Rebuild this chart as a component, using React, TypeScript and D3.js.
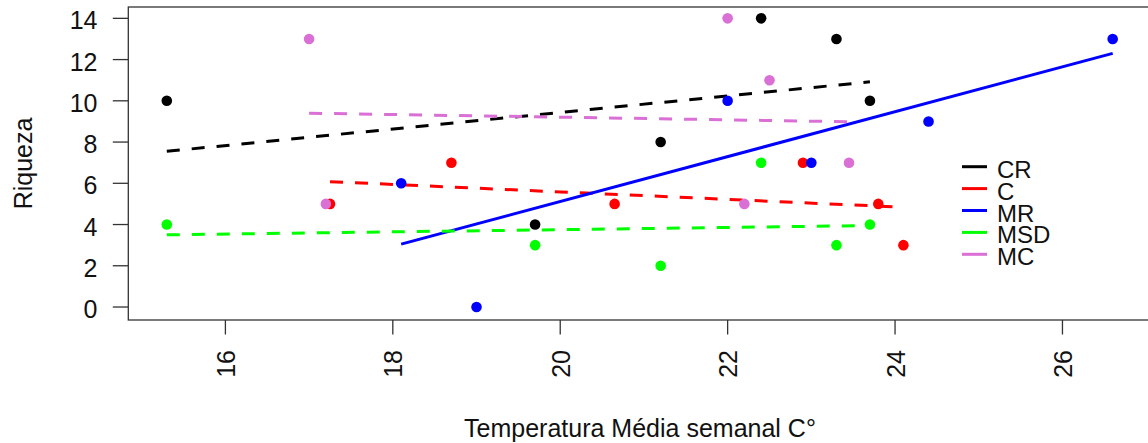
import React from "react";
import * as d3 from "d3";

// Weekly mean temperature (°C) and species richness for each site group
const seriesNames = ["CR", "C", "MR", "MSD", "MC"];
const seriesColors = ["#000000", "#ff0000", "#0000ff", "#00ff00", "#da70d6"];
const seriesDash = ["13 12", "13 12", "none", "13 12", "13 12"];

const tempCR = [15.3, 19.7, 21.2, 22.4, 23.3, 23.7];
const richCR = [10, 4, 8, 14, 13, 10];
const tempC = [17.25, 18.7, 20.65, 22.9, 23.8, 24.1];
const richC = [5, 7, 5, 7, 5, 3];
const tempMR = [18.1, 19.0, 22.0, 23.0, 24.4, 26.6];
const richMR = [6, 0, 10, 7, 9, 13];
const tempMSD = [15.3, 19.7, 21.2, 22.4, 23.3, 23.7];
const richMSD = [4, 3, 2, 7, 3, 4];
const tempMC = [17.0, 17.2, 22.0, 22.5, 22.2, 23.45];
const richMC = [13, 5, 14, 11, 5, 7];

// Fitted trend endpoints: [x0, x1] and [y0, y1]
const fitX = [
  [15.3, 23.7],
  [17.25, 24.1],
  [18.1, 26.6],
  [15.3, 23.7],
  [17.0, 23.5],
];
const fitY = [
  [7.55, 10.92],
  [6.08, 4.84],
  [3.05, 12.3],
  [3.5, 3.95],
  [9.4, 8.98],
];

const xTicks = [16, 18, 20, 22, 24, 26];
const yTicks = [0, 2, 4, 6, 8, 10, 12, 14];

const xTitle = "Temperatura Média semanal C°";
const yTitle = "Riqueza";

const temps = [tempCR, tempC, tempMR, tempMSD, tempMC];
const richs = [richCR, richC, richMR, richMSD, richMC];

export default function App() {
  const W = 1148;
  const H = 443;
  const left = 128.3;
  const right = 1153.7;
  const top = 7;
  const bottom = 320;

  const x = d3.scaleLinear().domain([14.84, 27.09]).range([left, right]);
  const y = d3.scaleLinear().domain([-0.63, 14.55]).range([bottom, top]);
  const line = d3
    .line<[number, number]>()
    .x((d) => x(d[0]))
    .y((d) => y(d[1]));

  const font = "'Liberation Sans', Arial, sans-serif";
  const axisColor = "#333";

  return (
    <svg
      width={W}
      height={H}
      style={{ position: "absolute", left: 0, top: 0, background: "#fff" }}
      fontFamily={font}
    >
      <rect x={0} y={0} width={W} height={H} fill="#fff" />

      {/* trend lines */}
      {fitX.map((fx, i) => (
        <path
          key={"fit" + i}
          d={line([
            [fx[0], fitY[i][0]],
            [fx[1], fitY[i][1]],
          ]) || ""}
          fill="none"
          stroke={seriesColors[i]}
          strokeWidth={3}
          strokeDasharray={seriesDash[i]}
        />
      ))}

      {/* observations */}
      {temps.map((ts, i) =>
        ts.map((t, j) => (
          <circle
            key={`p${i}-${j}`}
            cx={x(t)}
            cy={y(richs[i][j])}
            r={5.3}
            fill={seriesColors[i]}
          />
        ))
      )}

      {/* plot frame */}
      <rect
        x={left}
        y={top}
        width={right - left}
        height={bottom - top}
        fill="none"
        stroke={axisColor}
        strokeWidth={1.3}
      />

      {/* y axis */}
      {yTicks.map((t) => (
        <g key={"y" + t}>
          <line x1={left - 15.5} x2={left} y1={y(t)} y2={y(t)} stroke={axisColor} strokeWidth={1.3} />
          <text x={97.5} y={y(t) + 11} textAnchor="end" fontSize={25} fill="#111">
            {t}
          </text>
        </g>
      ))}

      {/* x axis */}
      {xTicks.map((t) => (
        <g key={"x" + t}>
          <line x1={x(t)} x2={x(t)} y1={bottom} y2={bottom + 14.5} stroke={axisColor} strokeWidth={1.3} />
          <text
            transform={`translate(${x(t) + 9.5},350) rotate(-90)`}
            textAnchor="end"
            fontSize={25}
            fill="#111"
          >
            {t}
          </text>
        </g>
      ))}

      {/* axis titles */}
      <text x={(left + right) / 2 - 1} y={437} textAnchor="middle" fontSize={25} fill="#111">
        {xTitle}
      </text>
      <text
        transform={`translate(32,${(top + bottom) / 2}) rotate(-90)`}
        textAnchor="middle"
        fontSize={25}
        fill="#111"
      >
        {yTitle}
      </text>

      {/* legend */}
      {seriesNames.map((name, i) => {
        const ly = 166.7 + i * 21.9;
        return (
          <g key={"lg" + name}>
            <line x1={962} x2={987} y1={ly} y2={ly} stroke={seriesColors[i]} strokeWidth={3} />
            <text x={997} y={ly + 11} fontSize={24} fill="#111">
              {name}
            </text>
          </g>
        );
      })}
    </svg>
  );
}
